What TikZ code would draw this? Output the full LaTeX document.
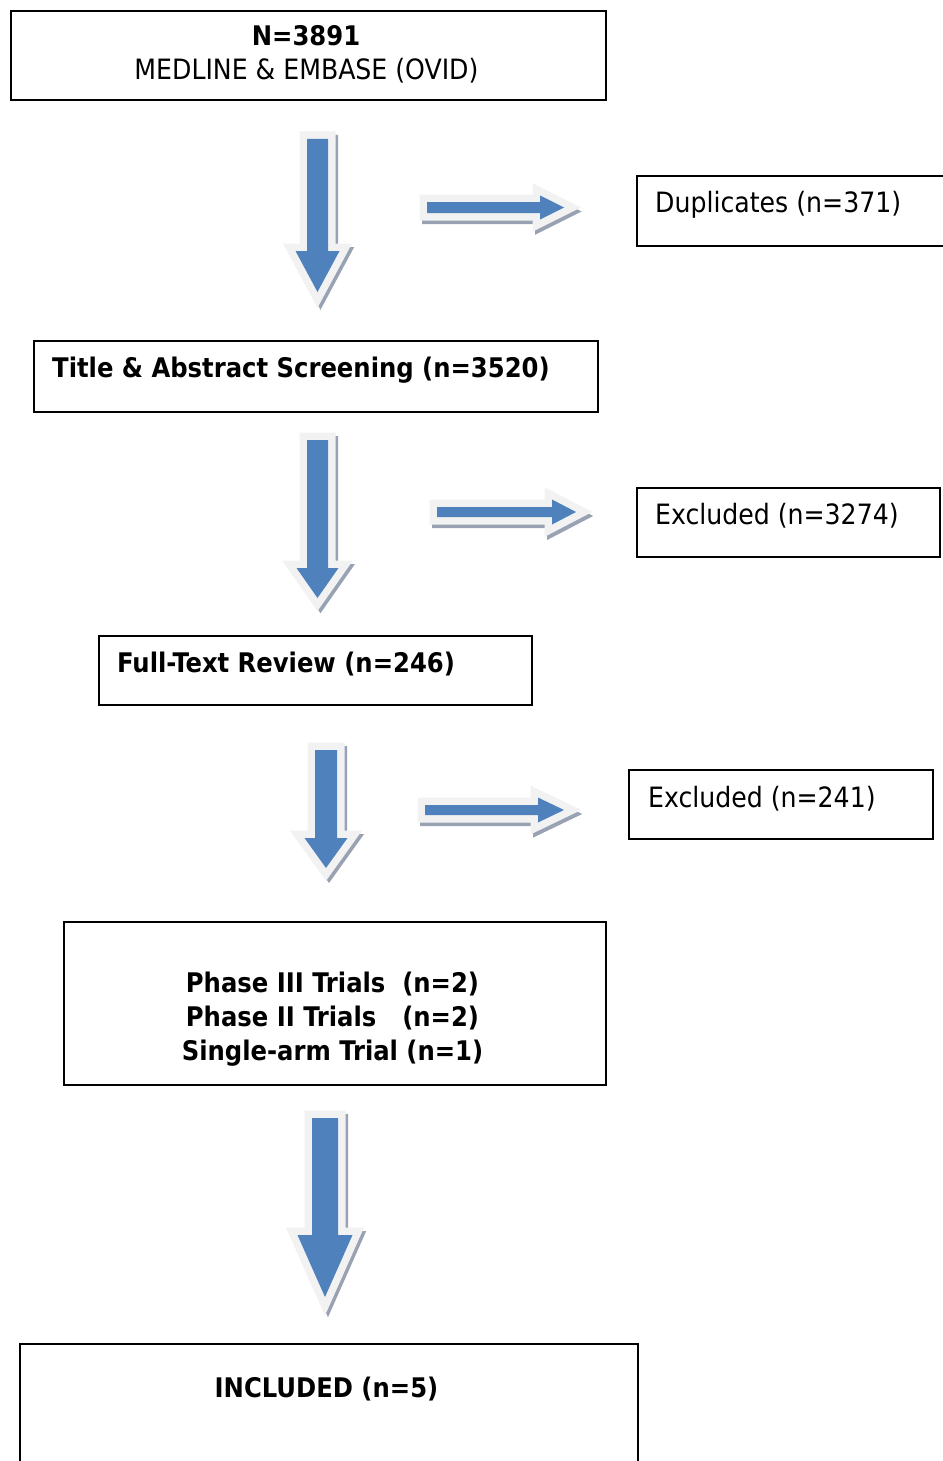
\documentclass[tikz,border=0pt]{standalone}
\usepackage{fontspec}
\setmainfont{DejaVu Sans Condensed}
\definecolor{arrblue}{HTML}{4F81BD}
\definecolor{arrlight}{HTML}{F2F2F2}
\definecolor{arrshadow}{HTML}{98A2B3}
\tikzset{
  box/.style={draw=black, line width=2pt, rectangle, inner sep=0pt},
  txt/.style={inner sep=0pt, font=\fontsize{28}{34}\selectfont},
  btxt/.style={inner sep=0pt, font=\fontsize{27}{34}\selectfont\bfseries},
  arrshade/.style={fill=arrshadow, draw=arrshadow, line width=14pt, line join=miter},
  arrout/.style={fill=arrlight, draw=arrlight, line width=15pt, line join=miter},
  arrfill/.style={fill=arrblue},
}
% down arrow: #1 cx, #2 top, #3 head start, #4 tip, #5 shaft half, #6 head half
\newcommand\dnarrowshape[6]{%
  \foreach \st/\dx/\dy in {arrshade/3/3, arrout/0/0, arrfill/0/0}{
    \path[\st, shift={(\dx,\dy)}] (#1-#5,#2) -- (#1+#5,#2) -- (#1+#5,#3) -- (#1+#6,#3)
      -- (#1,#4) -- (#1-#6,#3) -- (#1-#5,#3) -- cycle;
  }}
% right arrow: #1 cy, #2 left, #3 head start, #4 tip, #5 shaft half, #6 head half
\newcommand\rtarrowshape[6]{%
  \foreach \st/\dx/\dy in {arrshade/2/4, arrout/0/0, arrfill/0/0}{
    \path[\st, shift={(\dx,\dy)}] (#2,#1-#5) -- (#3,#1-#5) -- (#3,#1-#6) -- (#4,#1)
      -- (#3,#1+#6) -- (#3,#1+#5) -- (#2,#1+#5) -- cycle;
  }}
\begin{document}
\begin{tikzpicture}[x=1pt,y=-1pt]
\useasboundingbox[fill=white] (0,0) rectangle (942,1461);

% boxes
\node[box, minimum width=595pt, minimum height=89pt] (src) at (308.5,55.5) {};
\node[box, minimum width=320pt, minimum height=70pt] (dup) at (797,211) {};
\node[box, minimum width=564pt, minimum height=71pt] (tas) at (316,376.5) {};
\node[box, minimum width=303pt, minimum height=69pt] (exa) at (788.5,522.5) {};
\node[box, minimum width=433pt, minimum height=69pt] (ftr) at (315.5,670.5) {};
\node[box, minimum width=304pt, minimum height=69pt] (exb) at (781,804.5) {};
\node[box, minimum width=542pt, minimum height=163pt] (tri) at (335,1003.5) {};
\node[box, minimum width=618pt, minimum height=130pt] (inc) at (329,1409) {};

% texts
\node[btxt, anchor=base] (srcA) at (306,46) {N=3891};
\node[txt, anchor=base] (srcB) at (306.5,80) {MEDLINE \& EMBASE (OVID)};
\node[txt, anchor=base west] (dupT) at (655,212) {Duplicates (n=371)};
\node[btxt, anchor=base west] (tasT) at (52,377) {Title \& Abstract Screening (n=3520)};
\node[txt, anchor=base west] (exaT) at (655,524) {Excluded (n=3274)};
\node[btxt, anchor=base west] (ftrT) at (117,672) {Full-Text Review (n=246)};
\node[txt, anchor=base west] (exbT) at (648,807) {Excluded (n=241)};
\node[btxt, anchor=base] (tri1) at (332.5,992) {Phase III Trials\ \ (n=2)};
\node[btxt, anchor=base] (tri2) at (332.5,1026) {Phase II Trials\hphantom{I}\ \ (n=2)};
\node[btxt, anchor=base] (tri3) at (332.5,1060) {Single-arm Trial (n=1)};
\node[btxt, anchor=base] (incT) at (326.5,1397) {INCLUDED (n=5)};

% block arrows
\dnarrowshape{317.5}{139}{251}{292}{10.5}{22}
\dnarrowshape{317.5}{440}{568}{598}{10.5}{21}
\dnarrowshape{326}{750}{838}{868}{11}{21.5}
\dnarrowshape{325}{1118}{1235}{1297}{13}{27.5}
\rtarrowshape{207.5}{427}{540}{564}{5.5}{12}
\rtarrowshape{512}{437}{552}{576}{5}{12.5}
\rtarrowshape{810}{425}{538}{564}{5}{12.5}
\end{tikzpicture}
\end{document}
